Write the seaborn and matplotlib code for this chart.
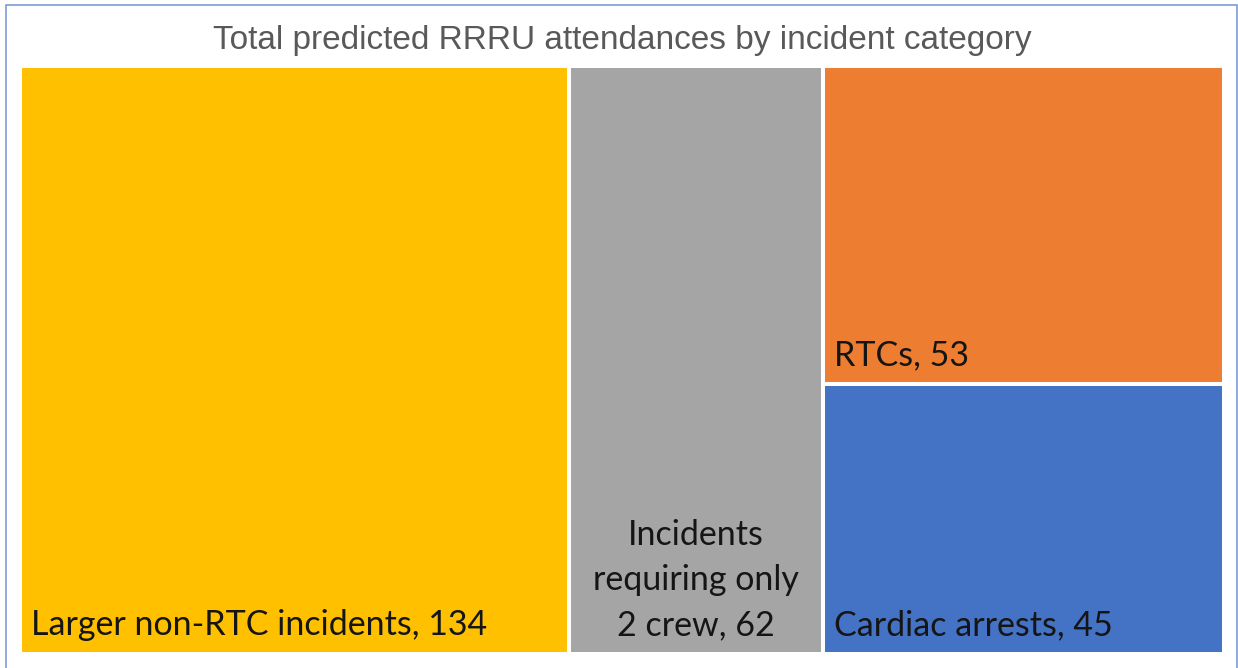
import seaborn as sns
from matplotlib import pyplot as plt
from matplotlib.patches import Rectangle

# treemap data
categories = ['Larger non-RTC incidents', 'Incidents\nrequiring only\n2 crew',
              'RTCs', 'Cardiac arrests']
attendances = [134, 62, 53, 45]
# which categories share a column, Excel style
columns = [[0], [1], [2, 3]]
colours = ['#FFC000', '#A5A5A5', '#ED7D31', '#4472C4']
title = 'Total predicted RRRU attendances by incident category'


def layout(values, groups):
    # slice the width by column totals, then dice each column by its values
    total = float(sum(values))
    rects = {}
    x0 = 0.0
    for grp in groups:
        col_sum = float(sum(values[i] for i in grp))
        width = col_sum / total
        top = 1.0
        for i in grp:
            h = values[i] / col_sum
            rects[i] = (x0, top - h, width, h)
            top -= h
        x0 += width
    return rects


def plot(filename):
    sns.set_theme(style='white')
    plt.rcParams['font.family'] = ['Lato', 'DejaVu Sans']
    palette = sns.color_palette(colours)

    W, H = 1238, 668
    fig = plt.figure(figsize=(W / 100, H / 100), dpi=100)
    ax = fig.add_axes([20 / W, (H - 654) / H, 1204 / W, 588 / H])
    ax.set_xlim(0, 1)
    ax.set_ylim(0, 1)
    ax.axis('off')

    rects = layout(attendances, columns)
    for i, name in enumerate(categories):
        x, y, w, h = rects[i]
        ax.bar(x, h, width=w, bottom=y, align='edge', color=palette[i],
               edgecolor='white', linewidth=2.9)
        label = '%s, %d' % (name, attendances[i])
        if '\n' in name:
            ax.annotate(label, (x + w / 2, y), xytext=(0, 9.5),
                        textcoords='offset points', ha='center', va='bottom',
                        multialignment='center', linespacing=1.5,
                        fontsize=24.5, color='#151515')
        else:
            ax.annotate(label, (x, y), xytext=(8.0, 13.6),
                        textcoords='offset points', ha='left', va='baseline',
                        fontsize=24.5, color='#151515')

    fig.text(622 / W, 1 - 40 / H, title, ha='center', va='center',
             color='#595959', fontsize=24, family='Liberation Sans')

    # outer chart frame
    fig.patches.append(Rectangle((6 / W, -0.05), 1231 / W, 1.05 - 5 / H,
                                 transform=fig.transFigure, fill=False,
                                 edgecolor='#7d9dd6', linewidth=1.2))

    fig.savefig(filename, dpi=100)


if __name__ == '__main__':
    plot('out.png')
